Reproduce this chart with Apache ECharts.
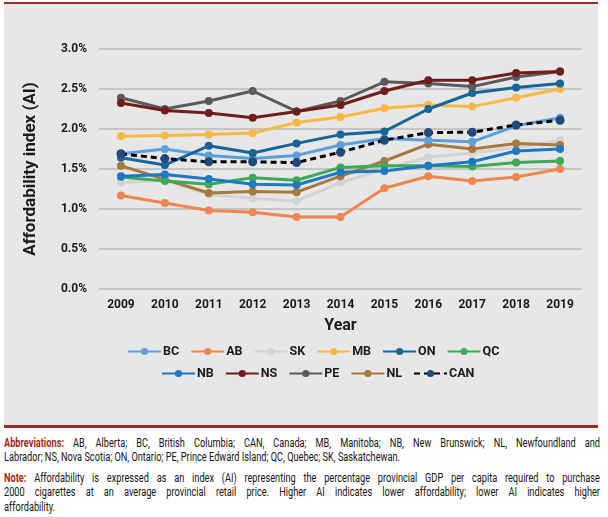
<!DOCTYPE html>
<html>
<head>
<meta charset="utf-8">
<script src="https://cdn.jsdelivr.net/npm/echarts@6/dist/echarts.min.js"></script>
<style>
  html, body { margin: 0; padding: 0; background: #ffffff; }
  body { width: 608px; height: 517px; position: relative; overflow: hidden;
         font-family: Roboto, "Liberation Sans", sans-serif; }
  #box { position: absolute; left: 4px; top: 2px; width: 594px; height: 421px;
         background: #e7e7e7; border-top: 2px solid #9b2a24; border-bottom: 3px solid #9b2a24; }
  #chart { position: absolute; left: 0; top: 0; width: 608px; height: 430px; }
  .fn { position: absolute; left: 4px; width: 596px; font-size: 12px; color: #141414; }
  .fn .ln { display: inline-block; white-space: nowrap; transform-origin: 0 50%; }
  .fn .row { height: 14.3px; line-height: 14.3px; overflow: visible; white-space: nowrap; }
  .lbl { color: #9b2a24; font-weight: bold; }
</style>
</head>
<body>
<div id="box"></div>
<div id="chart"></div>
<div class="fn" style="top:436px;">
  <div class="row"><span class="ln" data-j="1"><span class="lbl">Abbreviations:</span> AB, Alberta; BC, British Columbia; CAN, Canada; MB, Manitoba; NB, New Brunswick; NL, Newfoundland and</span></div>
  <div class="row"><span class="ln" id="ref2" data-j="0">Labrador; NS, Nova Scotia; ON, Ontario; PE, Prince Edward Island; QC, Quebec; SK, Saskatchewan.</span></div>
</div>
<div class="fn" style="top:471px;">
  <div class="row"><span class="ln" data-j="1"><span class="lbl">Note:</span> Affordability is expressed as an index (AI) representing the percentage provincial GDP per capita required to purchase</span></div>
  <div class="row"><span class="ln" data-j="1">2000 cigarettes at an average provincial retail price. Higher AI indicates lower affordability; lower AI indicates higher</span></div>
  <div class="row"><span class="ln" data-j="0">affordability.</span></div>
</div>
<script>
const years = ['2009','2010','2011','2012','2013','2014','2015','2016','2017','2018','2019'];
const yTicks = [0, 0.5, 1.0, 1.5, 2.0, 2.5, 3.0];

const BC  = [1.69, 1.75, 1.67, 1.63, 1.67, 1.80, 1.88, 1.86, 1.84, 2.04, 2.14];
const AB  = [1.17, 1.075, 0.98, 0.96, 0.90, 0.90, 1.26, 1.41, 1.35, 1.40, 1.50];
const SK  = [1.33, 1.36, 1.18, 1.13, 1.10, 1.33, 1.50, 1.65, 1.70, 1.77, 1.855];
const MB  = [1.91, 1.92, 1.93, 1.95, 2.08, 2.15, 2.26, 2.30, 2.28, 2.39, 2.50];
const ON  = [1.64, 1.55, 1.79, 1.70, 1.82, 1.93, 1.97, 2.25, 2.45, 2.52, 2.57];
const QC  = [1.40, 1.35, 1.31, 1.39, 1.36, 1.52, 1.54, 1.54, 1.53, 1.58, 1.60];
const NB  = [1.41, 1.43, 1.375, 1.31, 1.30, 1.46, 1.475, 1.54, 1.59, 1.725, 1.75];
const NS  = [2.325, 2.23, 2.20, 2.14, 2.22, 2.30, 2.475, 2.61, 2.61, 2.70, 2.72];
const PE  = [2.39, 2.25, 2.35, 2.475, 2.22, 2.35, 2.59, 2.57, 2.53, 2.65, 2.72];
const NL  = [1.54, 1.37, 1.20, 1.22, 1.21, 1.41, 1.60, 1.81, 1.75, 1.82, 1.80];
const CAN = [1.69, 1.63, 1.59, 1.59, 1.58, 1.71, 1.86, 1.955, 1.96, 2.05, 2.11];

const seriesNames = ['BC','AB','SK','MB','ON','QC','NB','NS','PE','NL','CAN'];
const seriesData  = [BC, AB, SK, MB, ON, QC, NB, NS, PE, NL, CAN];
const colors = {
  BC: '#5e9fd8', AB: '#ee8650', SK: '#d3d3d3', MB: '#f6b944', ON: '#176599',
  QC: '#3caa57', NB: '#1d79c1', NS: '#6f1e1a', PE: '#5a5a5a', NL: '#a8783c', CAN: '#000000'
};
const legendRow1 = ['BC','AB','SK','MB','ON','QC'];
const legendRow2 = ['NB','NS','PE','NL','CAN'];

const FONT = 'Roboto, "Liberation Sans", sans-serif';
const drawOrder = ['SK','AB','NL','QC','NB','BC','MB','ON','PE','NS','CAN'];

const series = drawOrder.map(function (name) {
  const i = seriesNames.indexOf(name);
  const isCan = name === 'CAN';
  return {
    name: name,
    type: 'line',
    data: seriesData[i],
    symbol: 'circle',
    symbolSize: isCan ? 9 : 8,
    lineStyle: { width: 3, color: colors[name], type: isCan ? [6, 4] : 'solid' },
    itemStyle: { color: isCan ? '#23497a' : colors[name] },
    z: isCan ? 5 : 2
  };
});

const legendCommon = {
  orient: 'horizontal',
  padding: 0,
  itemWidth: 33,
  itemHeight: 9,
  itemGap: 11,
  selectedMode: false,
  textStyle: { fontFamily: FONT, fontWeight: 'bold', fontSize: 12.5, color: '#1a1a1a', padding: [0, 0, 0, -3] }
};

const chart = echarts.init(document.getElementById('chart'), null, { renderer: 'canvas' });
chart.setOption({
  backgroundColor: 'transparent',
  animation: false,
  textStyle: { fontFamily: FONT },
  grid: { left: 99, right: 26, top: 49, height: 240 },
  legend: [
    Object.assign({}, legendCommon, { data: legendRow1, left: 127, top: 345 }),
    Object.assign({}, legendCommon, { data: legendRow2, left: 161, top: 367 })
  ],
  xAxis: {
    type: 'category',
    data: years,
    boundaryGap: true,
    axisLine: { show: false },
    axisTick: { show: false },
    axisLabel: { fontFamily: FONT, fontWeight: 'bold', fontSize: 12, color: '#1a1a1a', margin: 10 },
    name: 'Year',
    nameLocation: 'middle',
    nameGap: 29,
    nameTextStyle: { fontFamily: FONT, fontWeight: 'bold', fontSize: 16, color: '#1a1a1a' }
  },
  yAxis: {
    type: 'value',
    min: 0,
    max: 3,
    interval: 0.5,
    axisLine: { show: false },
    axisTick: { show: false },
    splitLine: { lineStyle: { color: '#c5c5c5', width: 2 } },
    axisLabel: {
      fontFamily: FONT, fontWeight: 'bold', fontSize: 12, color: '#1a1a1a', margin: 12,
      formatter: function (v) { return yTicks.indexOf(v) >= 0 ? v.toFixed(1) + '%' : ''; }
    },
    name: 'Affordability index (AI)',
    nameLocation: 'middle',
    nameGap: 60,
    nameTextStyle: { fontFamily: FONT, fontWeight: 'bold', fontSize: 17, color: '#1a1a1a' }
  },
  series: series
});

// Condense footnote text so that the second abbreviation line ends near x=400,
// and spread the justified lines to the full block width.
function fitNotes() {
  const T = 596;
  const ref = document.getElementById('ref2');
  ref.style.transform = 'none';
  const s = Math.min(1, 396 / ref.getBoundingClientRect().width);
  document.querySelectorAll('.fn .ln').forEach(function (ln) {
    ln.style.transform = 'none';
    ln.style.wordSpacing = '0px';
    const w = ln.getBoundingClientRect().width;
    if (ln.getAttribute('data-j') === '1') {
      const gaps = (ln.textContent.match(/ /g) || []).length;
      const ws = (T / s - w) / Math.max(gaps, 1);
      ln.style.wordSpacing = ws + 'px';
    }
    ln.style.transform = 'scaleX(' + s + ')';
  });
}
if (document.fonts && document.fonts.ready) { document.fonts.ready.then(fitNotes); }
fitNotes();
</script>
</body>
</html>
